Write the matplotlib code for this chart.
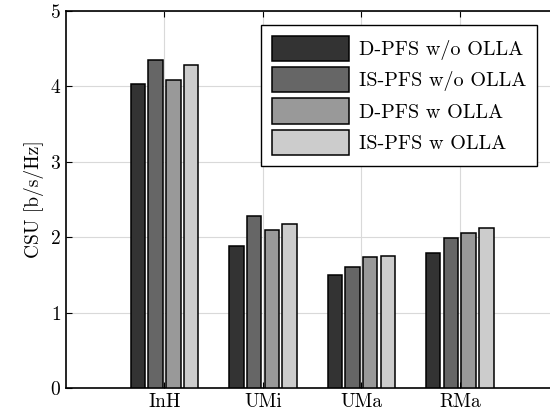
import numpy as np
import matplotlib
matplotlib.use('Agg')
import matplotlib.pyplot as plt

# дані
scenarios = ['InH', 'UMi', 'UMa', 'RMa']
series_names = ['D-PFS w/o OLLA', 'IS-PFS w/o OLLA', 'D-PFS w OLLA', 'IS-PFS w OLLA']
d_pfs_wo = [4.03, 1.88, 1.50, 1.79]
is_pfs_wo = [4.35, 2.28, 1.61, 1.99]
d_pfs_w = [4.09, 2.10, 1.74, 2.06]
is_pfs_w = [4.28, 2.17, 1.755, 2.12]
y_ticks = [0, 1, 2, 3, 4, 5]

series = [d_pfs_wo, is_pfs_wo, d_pfs_w, is_pfs_w]
colors = ['#333333', '#666666', '#999999', '#cccccc']

plt.rcParams['font.family'] = ['cmr10', 'DejaVu Serif']
plt.rcParams['axes.formatter.use_mathtext'] = True

fig = plt.figure(figsize=(5.5, 4.2), dpi=100)
ax = fig.add_axes([0.12, 0.076, 0.895, 0.898])

x = np.arange(1, len(scenarios) + 1)
step = 0.18
width = 0.147
for i, (vals, name, c) in enumerate(zip(series, series_names, colors)):
    ax.bar(x + (i - 1.5) * step, vals, width, color=c, edgecolor='black',
           linewidth=1.1, label=name, zorder=3)

ax.set_xlim(0, 5)
ax.set_ylim(0, 5)
ax.set_xticks(x)
ax.set_xticklabels(scenarios)
ax.set_yticks(y_ticks)
ax.set_ylabel('CSU [b/s/Hz]', fontsize=14, labelpad=4)
ax.tick_params(direction='in', top=True, right=True, labelsize=14, length=4)
ax.grid(True, color='#d9d9d9', linewidth=0.8, zorder=0)
ax.set_axisbelow(True)
for s in ax.spines.values():
    s.set_linewidth(1.2)

leg = ax.legend(loc='upper left', bbox_to_anchor=(0.396, 0.963), fontsize=14.5,
                handlelength=3.8, handleheight=1.55, labelspacing=0.3,
                fancybox=False, framealpha=1, edgecolor='black',
                borderaxespad=0, handletextpad=0.5, borderpad=0.55)
leg.get_frame().set_linewidth(1.0)

fig.savefig('out.png', dpi=100)
